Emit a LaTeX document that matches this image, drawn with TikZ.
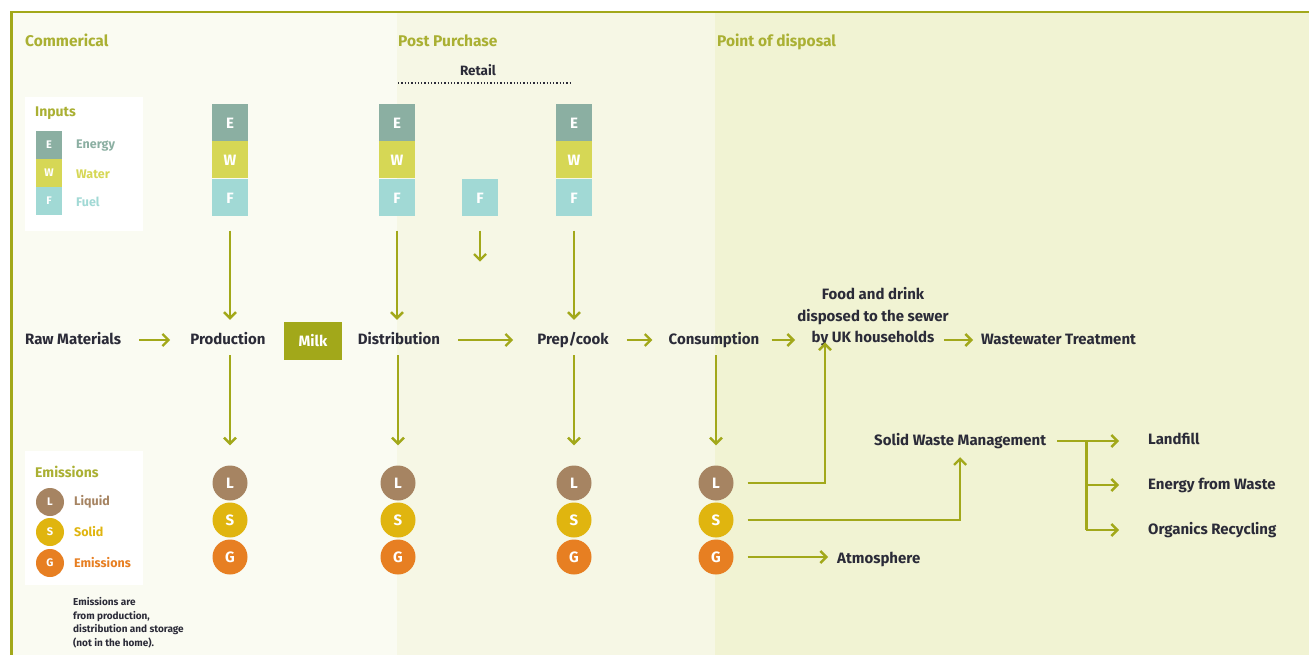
\documentclass[tikz,border=0pt]{standalone}
\usepackage{fontspec}
\setmainfont{Fira Sans}
\usetikzlibrary{arrows.meta}
\definecolor{olive}{HTML}{A2A81A}
\definecolor{ttl}{HTML}{AAB033}
\definecolor{txt}{HTML}{2B2B38}
\definecolor{bgA}{HTML}{FAFBF2}
\definecolor{bgB}{HTML}{F6F7E5}
\definecolor{bgC}{HTML}{F1F3D3}
\definecolor{cE}{HTML}{8BAFA2}
\definecolor{cW}{HTML}{D6D755}
\definecolor{cF}{HTML}{A1D9D5}
\definecolor{cL}{HTML}{A68462}
\definecolor{cS}{HTML}{E0B50F}
\definecolor{cG}{HTML}{E77F22}
\tikzset{
  lbl/.style={font=\bfseries\fontsize{15}{18}\selectfont, text=txt, inner sep=1pt, text height=11pt, text depth=3pt},
  sect/.style={font=\bfseries\fontsize{15.5}{18}\selectfont, text=ttl, inner sep=0pt, anchor=base west},
  arr/.style={draw=olive, line width=2.6pt, -{Straight Barb[length=6pt,width=12pt,line width=2.4pt]}},
  ln/.style={draw=olive, line width=2.6pt},
  sqbox/.style={minimum width=36pt, minimum height=37pt, inner sep=0pt, text=white, font=\bfseries\fontsize{15}{18}\selectfont},
  lsq/.style={minimum width=26pt, minimum height=28pt, inner sep=0pt, text=white, font=\bfseries\fontsize{11}{13}\selectfont},
  circ/.style={circle, minimum size=35pt, inner sep=0pt, text=white, font=\bfseries\fontsize{15}{18}\selectfont},
  lcirc/.style={circle, minimum size=28pt, inner sep=0pt, text=white, font=\bfseries\fontsize{11}{13}\selectfont},
  leg/.style={font=\bfseries\fontsize{12.5}{14}\selectfont, inner sep=0pt, anchor=west},
}
\begin{document}
\begin{tikzpicture}[x=1pt,y=-1pt]
\useasboundingbox (0,0) rectangle (1309,655);
% backgrounds
\fill[white] (0,0) rectangle (1309,655);
\fill[bgA] (12,13) rectangle (397,655);
\fill[bgB] (397,13) rectangle (715,655);
\fill[bgC] (715,13) rectangle (1309,655);
\draw[olive, line width=2pt] (10,12) -- (1309,12);
\draw[olive, line width=3pt] (11,12) -- (11,655);
% section titles
\node[sect] (tcom) at (25,47) {Commerical};
\node[sect] (tpost) at (398,47) {Post Purchase};
\node[sect] (tdisp) at (717,47) {Point of disposal};
\node[font=\bfseries\fontsize{13.5}{15}\selectfont, text=txt, inner sep=0pt, anchor=base] (retail) at (478,76) {Retail};
\draw[txt, line width=1.3pt, dotted] (398,83) -- (570,83);
% inputs legend
\fill[white] (25,97) rectangle (143,231);
\node[font=\bfseries\fontsize{14}{16}\selectfont, text=ttl, inner sep=0pt, anchor=base west] (inputs) at (35,117) {Inputs};
\node[lsq, fill=cE] (lgE) at (49,145) {E};
\node[lsq, fill=cW] (lgW) at (49,173) {W};
\node[lsq, fill=cF] (lgF) at (49,201) {F};
\node[leg, text=cE] at (76,146) {Energy};
\node[leg, text=cW] at (76,174) {Water};
\node[leg, text=cF] at (76,202) {Fuel};
% emissions legend
\fill[white] (25,451) rectangle (143,585);
\node[font=\bfseries\fontsize{14}{16}\selectfont, text=ttl, inner sep=0pt, anchor=base west] (emis) at (35,477) {Emissions};
\node[lcirc, fill=cL] (lgL) at (50,502) {L};
\node[lcirc, fill=cS] (lgS) at (50,532) {S};
\node[lcirc, fill=cG] (lgG) at (50,563) {G};
\node[leg, text=cL] at (74,502) {Liquid};
\node[leg, text=cS] at (74,532) {Solid};
\node[leg, text=cG] at (74,563) {Emissions};
\node[font=\bfseries\fontsize{10}{13.7}\selectfont, text=txt, align=left, inner sep=0pt, anchor=north west] (note) at (73,597) {Emissions are\\from production,\\distribution and storage\\(not in the home).};
% input stacks
\foreach \n/\x in {p/230, d/397, c/574} {
  \node[sqbox, fill=cE] (\n E) at (\x,123) {E};
  \node[sqbox, fill=cW] (\n W) at (\x,160) {W};
  \node[sqbox, fill=cF] (\n F) at (\x,198) {F};
}
\node[sqbox, fill=cF] (rF) at (480,198) {F};
% main row
\node[lbl, anchor=base west] (raw) at (24,344) {Raw Materials};
\node[lbl, anchor=base] (prod) at (228,344) {Production};
\node[fill=olive, minimum width=58pt, minimum height=38pt, inner sep=0pt, text=white, font=\bfseries\fontsize{15}{18}\selectfont] (milk) at (313,341) {Milk};
\node[lbl, anchor=base] (dist) at (399,344) {Distribution};
\node[lbl, anchor=base] (prep) at (573,344) {Prep/cook};
\node[lbl, anchor=base] (cons) at (714,344) {Consumption};
\node[font=\bfseries\fontsize{15}{21.5}\selectfont, text=txt, align=center, inner sep=1pt] (food) at (873,317) {Food and drink\\disposed to the sewer\\by UK households};
\node[lbl, anchor=base west] (ww) at (980,344) {Wastewater Treatment};
% emissions circles
\foreach \n/\x in {p/230, d/398, c/574, k/716} {
  \node[circ, fill=cL] (\n L) at (\x,483) {L};
  \node[circ, fill=cS] (\n S) at (\x,520) {S};
  \node[circ, fill=cG] (\n G) at (\x,557) {G};
}
% right side
\node[lbl, anchor=base west] (atm) at (836,563) {Atmosphere};
\node[lbl, anchor=base west] (swm) at (873,445) {Solid Waste Management};
\node[lbl, anchor=base west] (landfill) at (1147,444) {Landfill};
\node[lbl, anchor=base west] (efw) at (1147,489) {Energy from Waste};
\node[lbl, anchor=base west] (orc) at (1147,534) {Organics Recycling};
% arrows: inputs down
\draw[arr, shorten <=14pt, shorten >=12pt] (pF.south) -- (pF.south |- prod.north);
\draw[arr, shorten <=14pt, shorten >=12pt] (dF.south) -- (dF.south |- dist.north);
\draw[arr, shorten <=14pt, shorten >=12pt] (cF.south) -- (cF.south |- prep.north);
\draw[arr, shorten <=14pt, shorten >=-44pt] (rF.south) -- ++(0,1);
% main flow
\draw[arr, shorten <=17pt, shorten >=19pt] (raw.east) -- (prod.west);
\draw[arr, shorten <=17pt, shorten >=23pt] (dist.east) -- (prep.west);
\draw[arr, shorten <=17pt, shorten >=15pt] (prep.east) -- (cons.west);
\draw[arr, shorten <=11pt, shorten >=1pt] (cons.east) -- (cons.east -| food.west);
\draw[arr, shorten >=7pt] ([xshift=-6pt]food.east |- ww.west) -- (ww.west);
% down to emissions
\draw[arr, shorten <=7pt, shorten >=20pt] (prod.south -| pL.north) -- (pL.north);
\draw[arr, shorten <=7pt, shorten >=20pt] (dist.south -| dL.north) -- (dL.north);
\draw[arr, shorten <=7pt, shorten >=20pt] (prep.south -| cL.north) -- (cL.north);
\draw[arr, shorten <=7pt, shorten >=20pt] (cons.south -| kL.north) -- (kL.north);
% consumption outputs
\draw[arr, shorten <=14pt] (kL.east) -| ([xshift=-48pt,yshift=5pt]food.south);
\draw[arr, shorten <=14pt, shorten >=8pt] (kS.east) -| (swm.south);
\draw[arr, shorten <=14pt, shorten >=8pt] (kG.east) -- (kG.east -| atm.west);
% solid waste branches
\draw[arr, shorten <=10pt, shorten >=28pt] (swm.east) -- (swm.east -| landfill.west);
\draw[ln] ([xshift=39pt]swm.east) -- ([xshift=39pt]swm.east |- orc.west);
\draw[arr, shorten >=28pt] ([xshift=39pt]swm.east |- efw.west) -- (efw.west);
\draw[arr, shorten >=28pt] ([xshift=39pt]swm.east |- orc.west) -- (orc.west);
\end{tikzpicture}
\end{document}
